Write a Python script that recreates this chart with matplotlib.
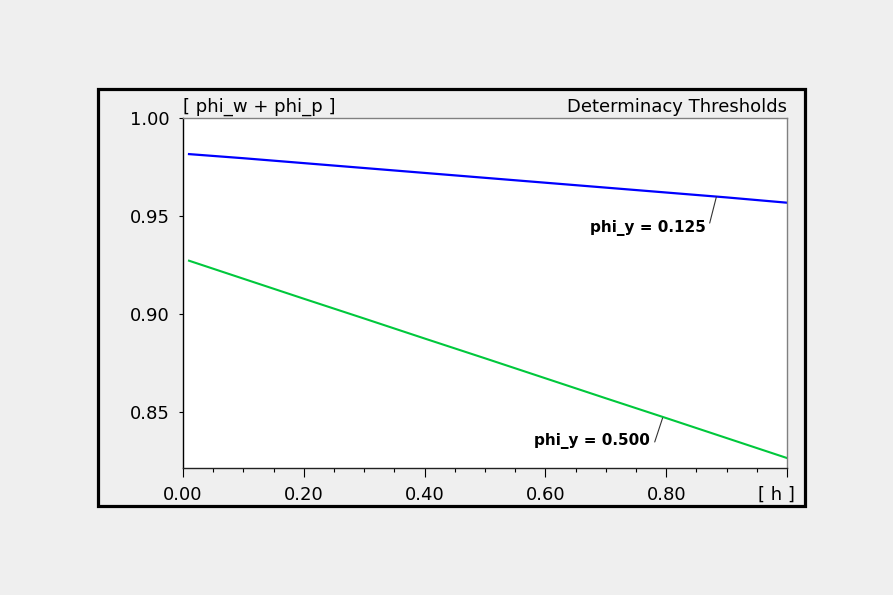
import matplotlib
matplotlib.use('Agg')
import matplotlib.pyplot as plt
from matplotlib.patches import Rectangle

# threshold values
h = [0.01, 0.1, 0.2, 0.3, 0.4, 0.5, 0.6, 0.7, 0.8, 0.9, 1.0]
phi_y_0125 = [0.9816, 0.9795, 0.9770, 0.9745, 0.9720, 0.9695, 0.9670, 0.9645, 0.9620, 0.9595, 0.9568]
phi_y_0500 = [0.9272, 0.9180, 0.9078, 0.8977, 0.8875, 0.8774, 0.8672, 0.8570, 0.8469, 0.8367, 0.8265]

y_ticks = [0.85, 0.90, 0.95, 1.00]
x_ticks = [0.0, 0.2, 0.4, 0.6, 0.8, 1.0]
x_ticklabels = ['0.00', '0.20', '0.40', '0.60', '0.80', '']

labels = ['phi_y = 0.125', 'phi_y = 0.500']
label_text_pos = [(0.866, 0.9439), (0.773, 0.8352)]
label_line_start = [(0.872, 0.9464), (0.781, 0.8347)]
label_line_end = [(0.883, 0.9597), (0.794, 0.8469)]

bg = '#efefef'
plt.rcParams['font.family'] = ['DejaVu Sans']

fig = plt.figure(figsize=(8.93, 5.95), dpi=100, facecolor=bg)

# outer frame
fig.patches.append(Rectangle((0.1103, 0.1504), 0.7911, 0.6992, transform=fig.transFigure,
                             fill=False, lw=2.3, ec='black'))

ax = fig.add_axes([0.2049, 0.2134, 0.6764, 0.5882])
ax.set_facecolor('white')

ax.plot(h, phi_y_0125, color='#0000ff', lw=1.6)
ax.plot(h, phi_y_0500, color='#00c83c', lw=1.5)

ax.set_xlim(0, 1.0)
ax.set_ylim(0.8214, 1.0)

ax.set_yticks(y_ticks)
ax.set_yticklabels(['%.2f' % v for v in y_ticks])
ax.set_xticks(x_ticks)
ax.set_xticklabels(x_ticklabels)
ax.set_xticks([i * 0.05 for i in range(21)], minor=True)

ax.tick_params(axis='y', direction='out', length=3, width=0.8, pad=6.5, labelsize=13)
ax.tick_params(axis='x', which='major', direction='out', length=6.5, width=0.8, pad=6.5, labelsize=13)
ax.tick_params(axis='x', which='minor', direction='out', length=3, width=0.8)

ax.spines['left'].set_color('black')
ax.spines['bottom'].set_color('#222222')
ax.spines['top'].set_color('#808080')
ax.spines['right'].set_color('#808080')
for s in ax.spines.values():
    s.set_linewidth(1.0)

# headers
ax.annotate('[ phi_w + phi_p ]', xy=(0, 1), xycoords='axes fraction', xytext=(0, 2),
            textcoords='offset pixels', ha='left', va='bottom', fontsize=13)
ax.annotate('Determinacy Thresholds', xy=(1, 1), xycoords='axes fraction', xytext=(0, 2),
            textcoords='offset pixels', ha='right', va='bottom', fontsize=13)
ax.annotate('[ h ]', xy=(1, 0), xycoords='axes fraction', xytext=(8, -18),
            textcoords='offset pixels', ha='right', va='top', fontsize=13)

# line labels
for lab, tp, ls, le in zip(labels, label_text_pos, label_line_start, label_line_end):
    ax.text(tp[0], tp[1], lab, ha='right', va='center', fontsize=11, fontweight='bold')
    ax.annotate('', xy=le, xytext=ls,
                arrowprops=dict(arrowstyle='-', color='#333333', lw=0.8, shrinkA=0, shrinkB=0))

fig.savefig('out.png', dpi=100, facecolor=bg)
